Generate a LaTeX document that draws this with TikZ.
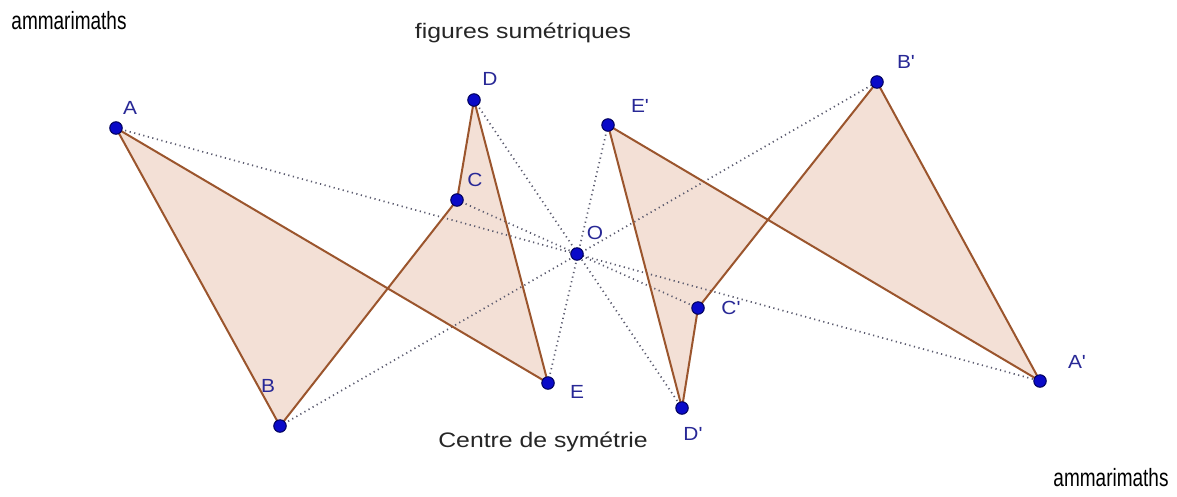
\documentclass[tikz,border=0pt]{standalone}
\usepackage{fontspec}
\setmainfont{Liberation Sans}
\newcommand{\pr}{\textquotesingle}
\begin{document}
\begin{tikzpicture}[x=1pt,y=-1pt,
  pt/.style={circle,fill=ptblue,draw=ptdark,line width=1pt,inner sep=0pt,minimum size=12.5pt},
  lbl/.style={text=lblblue,font=\fontsize{19}{19}\selectfont,inner sep=0pt,xscale=1.1},
  edge/.style={draw=edgebrown,line width=2pt},
  face/.style={fill=facepink},
  dots/.style={draw=dotgray,line width=1.7pt,dash pattern=on 1.2pt off 3.5pt},
  caption/.style={text=black!85,font=\fontsize{21}{21}\selectfont,inner sep=0pt,xscale=1.18},
  brand/.style={text=black,font=\fontsize{25}{25}\selectfont,inner sep=0pt,xscale=0.76}]
\definecolor{ptblue}{RGB}{10,10,200}
\definecolor{ptdark}{RGB}{0,0,90}
\definecolor{lblblue}{RGB}{40,40,150}
\definecolor{edgebrown}{RGB}{155,85,45}
\definecolor{facepink}{RGB}{243,224,214}
\definecolor{dotgray}{RGB}{90,90,110}
\useasboundingbox (0,0) rectangle (1177,496);
\fill[white] (0,0) rectangle (1177,496);
% coordinates
\coordinate (A) at (116,128);
\coordinate (B) at (280,426);
\coordinate (C) at (457,200);
\coordinate (D) at (474,100);
\coordinate (E) at (548,383);
\coordinate (O) at (577,254);
\coordinate (A') at (1040,381);
\coordinate (B') at (877,82);
\coordinate (C') at (698,308);
\coordinate (D') at (682,408);
\coordinate (E') at (608,125);
% faces
\path[face,even odd rule] (A) -- (B) -- (C) -- (D) -- (E) -- cycle;
\path[face,even odd rule] (A') -- (B') -- (C') -- (D') -- (E') -- cycle;
% dotted lines
\draw[dots] (A) -- (A');
\draw[dots] (B) -- (B');
\draw[dots] (C) -- (C');
\draw[dots] (D) -- (D');
\draw[dots] (E) -- (E');
% edges
\draw[edge] (A) -- (B) -- (C) -- (D) -- (E) -- cycle;
\draw[edge] (A') -- (B') -- (C') -- (D') -- (E') -- cycle;
% points
\foreach \p in {A,B,C,D,E,O,A',B',C',D',E'} \node[pt] (n\p) at (\p) {};
% labels
\node[lbl] (lA) at (130,108) {A};
\node[lbl] (lB) at (268,386) {B};
\node[lbl] (lC) at (475,180) {C};
\node[lbl] (lD) at (490,79) {D};
\node[lbl] (lE) at (577,392) {E};
\node[lbl] (lO) at (595,233) {O};
\node[lbl] (lA') at (1077,362) {A\pr};
\node[lbl] (lB') at (906,62) {B\pr};
\node[lbl] (lC') at (731,308) {C\pr};
\node[lbl] (lD') at (693,434) {D\pr};
\node[lbl] (lE') at (640,106) {E\pr};
% captions
\node[caption] (title) at (523,33) {figures sumétriques};
\node[caption] (centre) at (543,442) {Centre de symétrie};
\node[brand] (b1) at (69,21) {ammarimaths};
\node[brand] (b2) at (1111,478) {ammarimaths};
\end{tikzpicture}
\end{document}
